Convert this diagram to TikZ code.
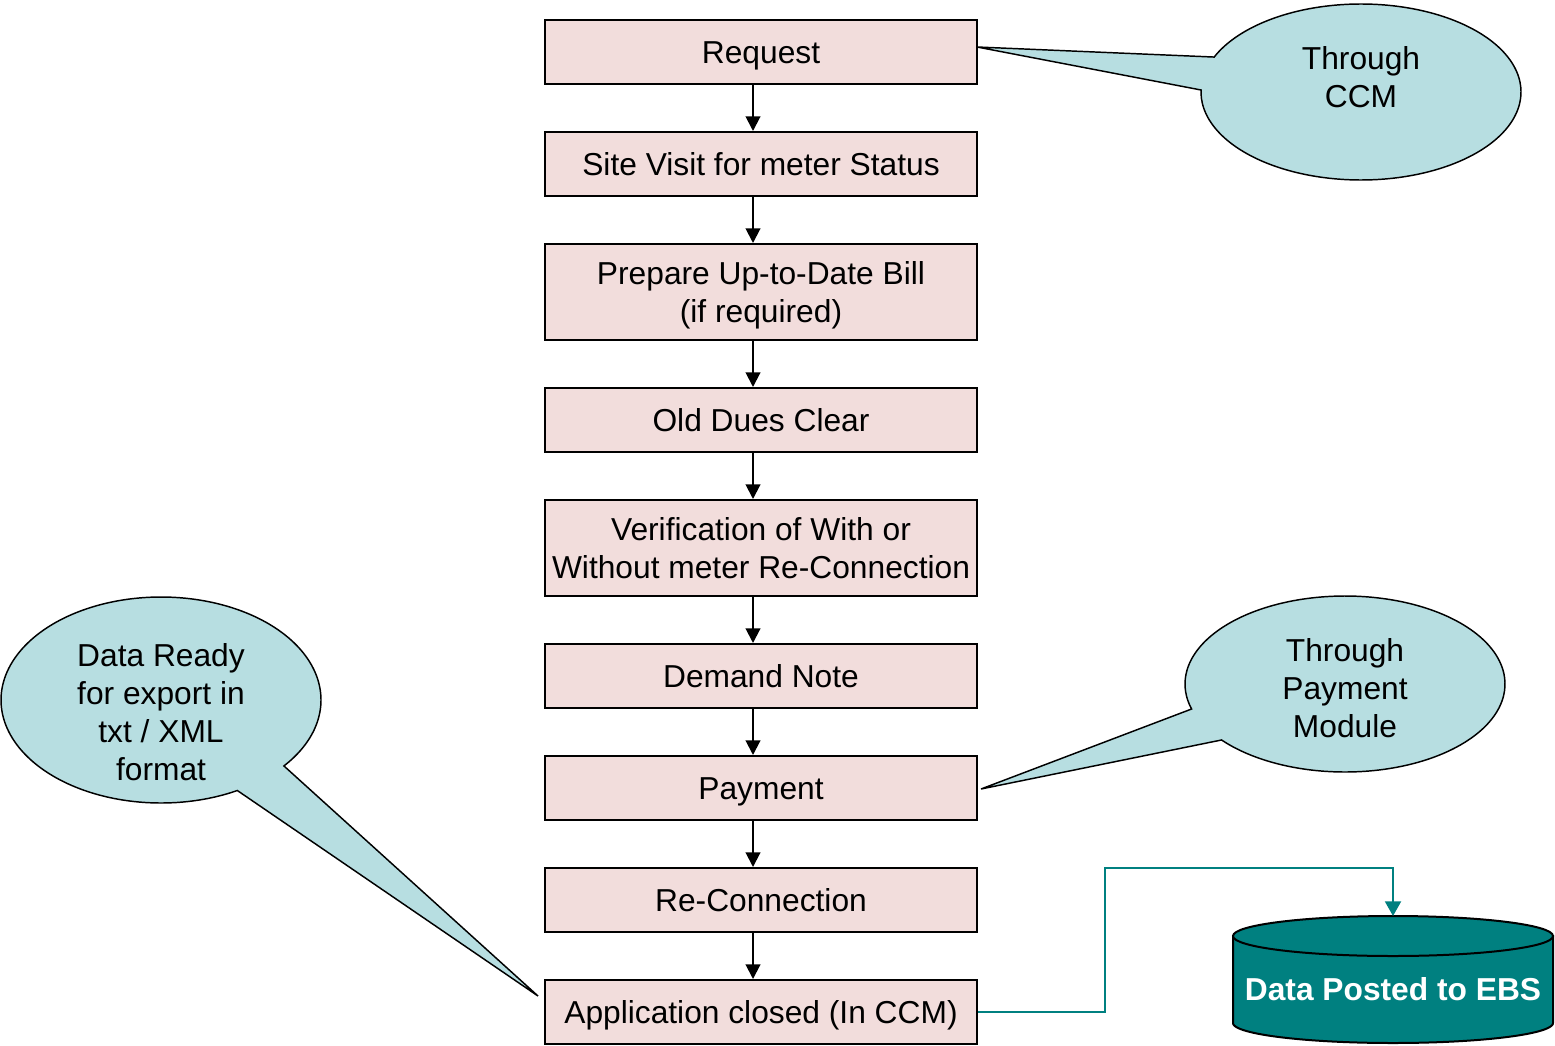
\documentclass[tikz,border=0pt]{standalone}
\usepackage{fontspec}
\setmainfont{Liberation Sans}
\usetikzlibrary{arrows.meta}
\definecolor{boxpink}{RGB}{242,221,220}
\definecolor{callblue}{RGB}{183,222,225}
\definecolor{ebsteal}{RGB}{0,128,128}
\begin{document}
\begin{tikzpicture}[x=0.75pt,y=-0.75pt,
  every node/.style={font=\fontsize{23.8pt}{28.5pt}\selectfont},
  stepbox/.style={draw, line width=1.5pt, fill=boxpink, minimum width=324pt, minimum height=48pt, inner sep=0pt, align=center, text height=22pt, text depth=4.8pt},
  tallbox/.style={minimum height=72pt, text height=50.5pt},
  flow/.style={line width=1.5pt, -{Triangle[length=11pt,width=11pt]}},
  callout/.style={draw, line width=1.1pt, fill=callblue},
  ctext/.style={align=center, inner sep=0pt}]
\useasboundingbox (0,0) rectangle (1555,1045);

% flow boxes
\node[stepbox] (req)  at (761,52)  {Request};
\node[stepbox] (site) at (761,164) {Site Visit for meter Status};
\node[stepbox,tallbox] (prep) at (761,292) {Prepare Up-to-Date Bill\\(if required)};
\node[stepbox] (old)  at (761,420) {Old Dues Clear};
\node[stepbox,tallbox] (ver) at (761,548) {Verification of With or\\Without meter Re-Connection};
\node[stepbox] (dem)  at (761,676) {Demand Note};
\node[stepbox] (pay)  at (761,788) {Payment};
\node[stepbox] (rec)  at (761,900) {Re-Connection};
\node[stepbox] (app)  at (761,1012) {Application closed (In CCM)};

\coordinate (ax) at (753,0);
\draw[flow] (req.south -| ax) -- (site.north -| ax);
\draw[flow] (site.south -| ax) -- (prep.north -| ax);
\draw[flow] (prep.south -| ax) -- (old.north -| ax);
\draw[flow] (old.south -| ax) -- (ver.north -| ax);
\draw[flow] (ver.south -| ax) -- (dem.north -| ax);
\draw[flow] (dem.south -| ax) -- (pay.north -| ax);
\draw[flow] (pay.south -| ax) -- (rec.north -| ax);
\draw[flow] (rec.south -| ax) -- (app.north -| ax);

% callout 1: Through CCM
\draw[callout] plot[domain=203.4:541.3, samples=120, smooth] ({1361+160*cos(\x)},{92+88*sin(\x)}) -- (977,47) -- cycle;
\node[ctext] (c1) at (1361,77) {Through\\CCM};

% callout 2: Through Payment Module
\draw[callout] plot[domain=163.5:500.5, samples=120, smooth] ({1345+160*cos(\x)},{684+88*sin(\x)}) -- (981,789) -- cycle;
\node[ctext] (c2) at (1345,688) {Through\\Payment\\Module};

% callout 3: Data Ready
\draw[callout] plot[domain=61.5:399.8, samples=120, smooth] ({161+160*cos(\x)},{700+103*sin(\x)}) -- (538,996) -- cycle;
\node[ctext] (c3) at (161,712) {Data Ready\\for export in\\txt / XML\\format};

% cylinder
\draw[line width=1.5pt, fill=ebsteal] (1233,936) -- (1233,1023)
  -- plot[domain=0:180, samples=80, smooth] ({1393-160*cos(\x)},{1023+20*sin(\x)})
  -- (1553,936) -- cycle;
\draw[line width=1.5pt, fill=ebsteal] (1393,936) ellipse [x radius=160, y radius=20];
\node[text=white, font=\fontsize{23.8pt}{28.5pt}\selectfont\bfseries] (ebs) at (1393,989) {Data Posted to EBS};
\coordinate (dbtop) at (1393,916);

% teal connector
\draw[ebsteal, line width=1.5pt, -{Triangle[length=11pt,width=12pt]}] (app.east) -- (1105,1012) |- (1393,868) -- (dbtop);
\end{tikzpicture}
\end{document}
